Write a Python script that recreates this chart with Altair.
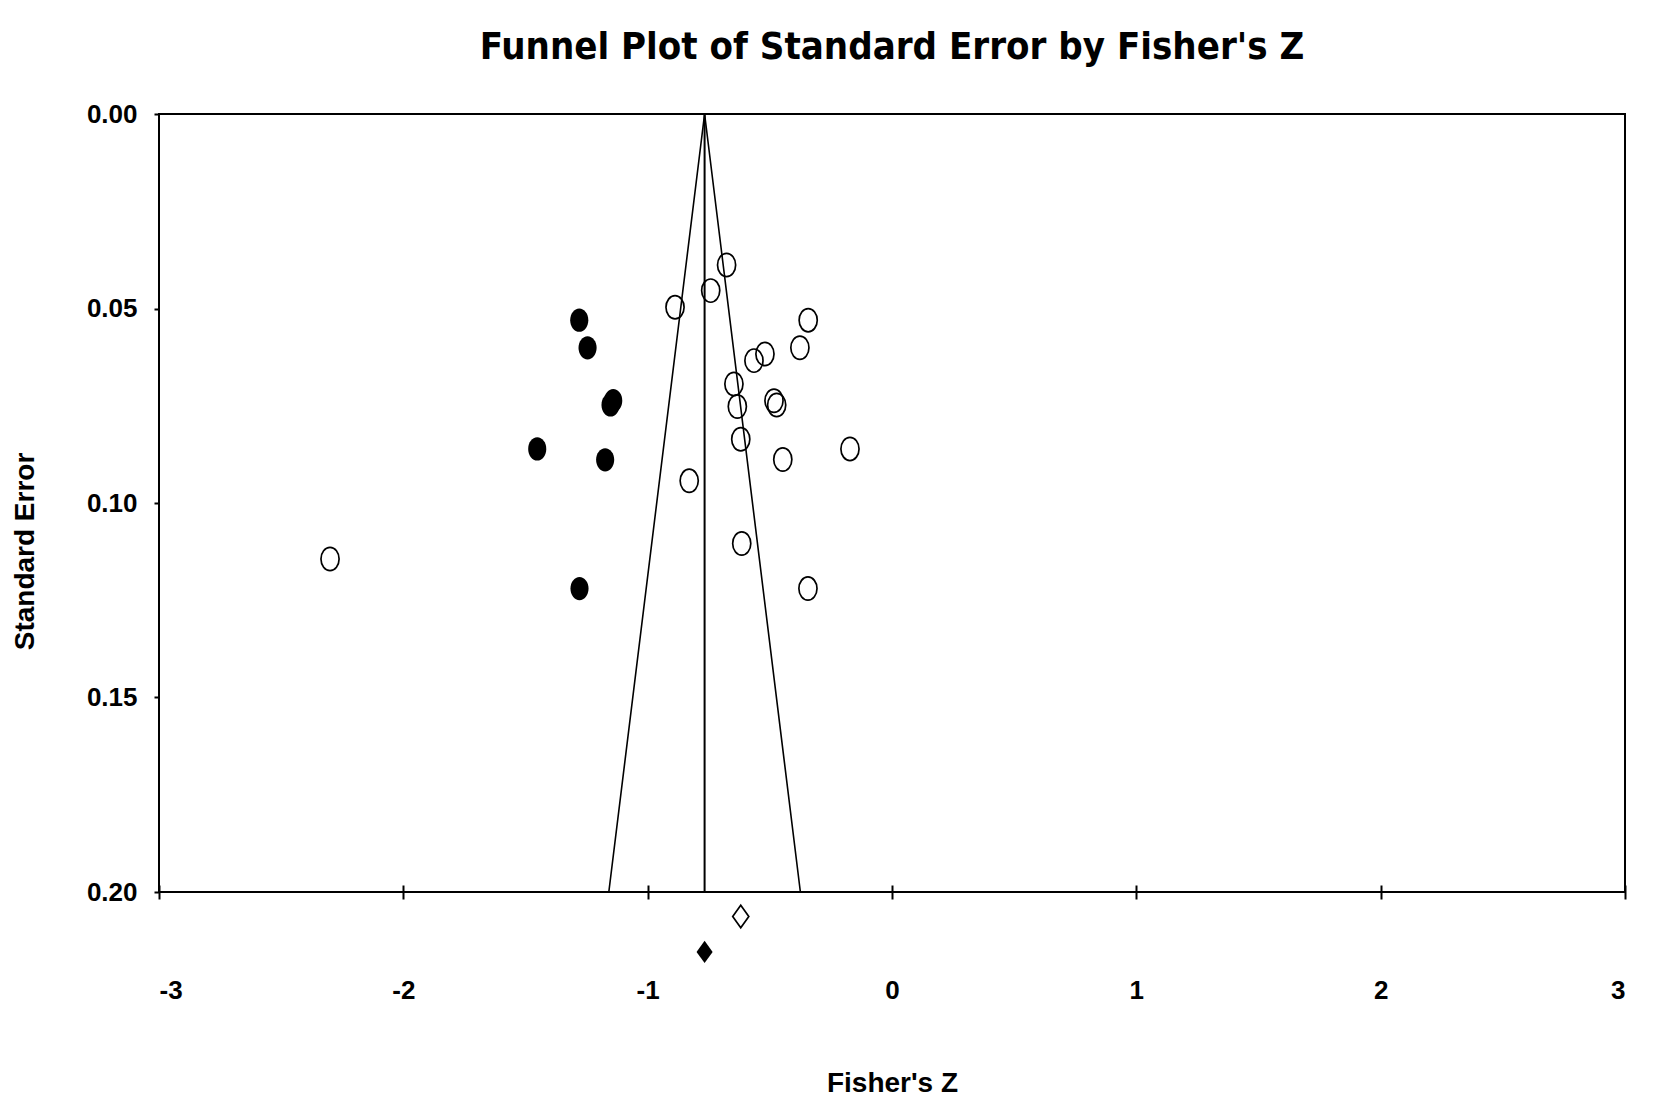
import altair as alt
import pandas as pd

# Observed studies (open circles)
obs_z = [-0.677, -0.742, -0.888, -0.343, -0.377, -0.520, -0.565, -0.647, -0.633,
         -0.483, -0.472, -0.619, -0.172, -0.447, -0.830, -0.615, -2.300, -0.344]
obs_se = [0.0388, 0.0454, 0.0497, 0.0530, 0.0601, 0.0617, 0.0634, 0.0694, 0.0752,
          0.0737, 0.0748, 0.0836, 0.0861, 0.0888, 0.0943, 0.1104, 0.1144, 0.1220]

# Imputed studies (filled circles)
imp_z = [-1.280, -1.246, -1.141, -1.152, -1.452, -1.174, -1.279]
imp_se = [0.0530, 0.0601, 0.0737, 0.0748, 0.0861, 0.0889, 0.1220]

# Summary diamonds (drawn below the axis)
sum_z = [-0.619, -0.767]
sum_pos = [0.2063, 0.2154]
sum_kind = ["observed", "imputed"]

# Funnel
mean_z = -0.767
se_max = 0.20
funnel_x = [mean_z - 1.96 * se_max, mean_z, mean_z + 1.96 * se_max]
funnel_y = [se_max, 0.0, se_max]

x_ticks = [-3, -2, -1, 0, 1, 2, 3]
y_ticks = [0.00, 0.05, 0.10, 0.15, 0.20]

obs_df = pd.DataFrame({"z": obs_z, "se": obs_se})
imp_df = pd.DataFrame({"z": imp_z, "se": imp_se})
sum_df = pd.DataFrame({"z": sum_z, "se": sum_pos, "kind": sum_kind})
fun_df = pd.DataFrame({"z": funnel_x, "se": funnel_y, "o": [0, 1, 2]})
vline_df = pd.DataFrame({"z": [mean_z], "se": [0.0], "se2": [se_max]})

FONT = "Liberation Sans"
ELLIPSE = "M-0.78,0A0.78,1,0,1,1,0.78,0A0.78,1,0,1,1,-0.78,0Z"
DIAMOND = "M0,-1L0.72,0L0,1L-0.72,0Z"

xscale = alt.Scale(domain=[-3, 3], nice=False, zero=False)
yscale = alt.Scale(domain=[0, 0.2], reverse=True, nice=False, zero=False)

xaxis = alt.Axis(values=x_ticks, domain=False, offset=-7, tickSize=14, tickWidth=2,
                 tickColor="black", labelExpr="datum.value + ''",
                 labelFont=FONT, labelFontSize=26, labelFontWeight="bold",
                 labelColor="black", labelPadding=99, labelBaseline="alphabetic",
                 title="Fisher's Z", titleFont=FONT, titleFontSize=28,
                 titleFontWeight="bold", titleColor="black",
                 titleBaseline="alphabetic", titleY=206, grid=False)
yaxis = alt.Axis(values=y_ticks, domain=False, tickSize=5, tickWidth=2,
                 tickColor="black", format=".2f",
                 labelFont=FONT, labelFontSize=26, labelFontWeight="bold",
                 labelColor="black", labelPadding=17,
                 title="Standard Error", titleFont=FONT, titleFontSize=28,
                 titleFontWeight="bold", titleColor="black",
                 titleX=-134, titleY=437, titleAngle=-90, titleAlign="center",
                 titleBaseline="middle", grid=False)

funnel = alt.Chart(fun_df).mark_line(color="black", strokeWidth=1.6).encode(
    x=alt.X("z:Q", scale=xscale, axis=xaxis),
    y=alt.Y("se:Q", scale=yscale, axis=yaxis),
    order="o:Q",
)

vline = alt.Chart(vline_df).mark_rule(color="black", strokeWidth=2).encode(
    x=alt.X("z:Q", scale=xscale),
    y=alt.Y("se:Q", scale=yscale),
    y2="se2:Q",
)

open_pts = alt.Chart(obs_df).mark_point(
    shape=ELLIPSE, filled=False, stroke="black", strokeWidth=1.7, size=540, opacity=1
).encode(x=alt.X("z:Q", scale=xscale), y=alt.Y("se:Q", scale=yscale))

filled_pts = alt.Chart(imp_df).mark_point(
    shape=ELLIPSE, filled=True, color="black", size=540, opacity=1
).encode(x=alt.X("z:Q", scale=xscale), y=alt.Y("se:Q", scale=yscale))

open_dia = alt.Chart(sum_df).transform_filter(alt.datum.kind == "observed").mark_point(
    shape=DIAMOND, filled=False, stroke="black", strokeWidth=1.7, size=500, opacity=1
).encode(x=alt.X("z:Q", scale=xscale), y=alt.Y("se:Q", scale=yscale))

filled_dia = alt.Chart(sum_df).transform_filter(alt.datum.kind == "imputed").mark_point(
    shape=DIAMOND, filled=True, color="black", size=500, opacity=1
).encode(x=alt.X("z:Q", scale=xscale), y=alt.Y("se:Q", scale=yscale))

chart = alt.layer(funnel, vline, open_pts, filled_pts, open_dia, filled_dia).properties(
    width=1466,
    height=778,
    background="white",
    autosize=alt.AutoSizeParams(type="none"),
    padding={"left": 151, "top": 106, "right": 20, "bottom": 205},
    title=alt.TitleParams(
        "Funnel Plot of Standard Error by Fisher's Z",
        font="Liberation Sans Narrow, DejaVu Sans Condensed, Liberation Sans",
        fontSize=38, fontWeight="bold", color="black",
        anchor="middle", baseline="alphabetic", offset=4,
    ),
).configure_view(stroke="black", strokeWidth=2)

chart.save("out.html", embed_options={"renderer": "svg", "actions": False})
